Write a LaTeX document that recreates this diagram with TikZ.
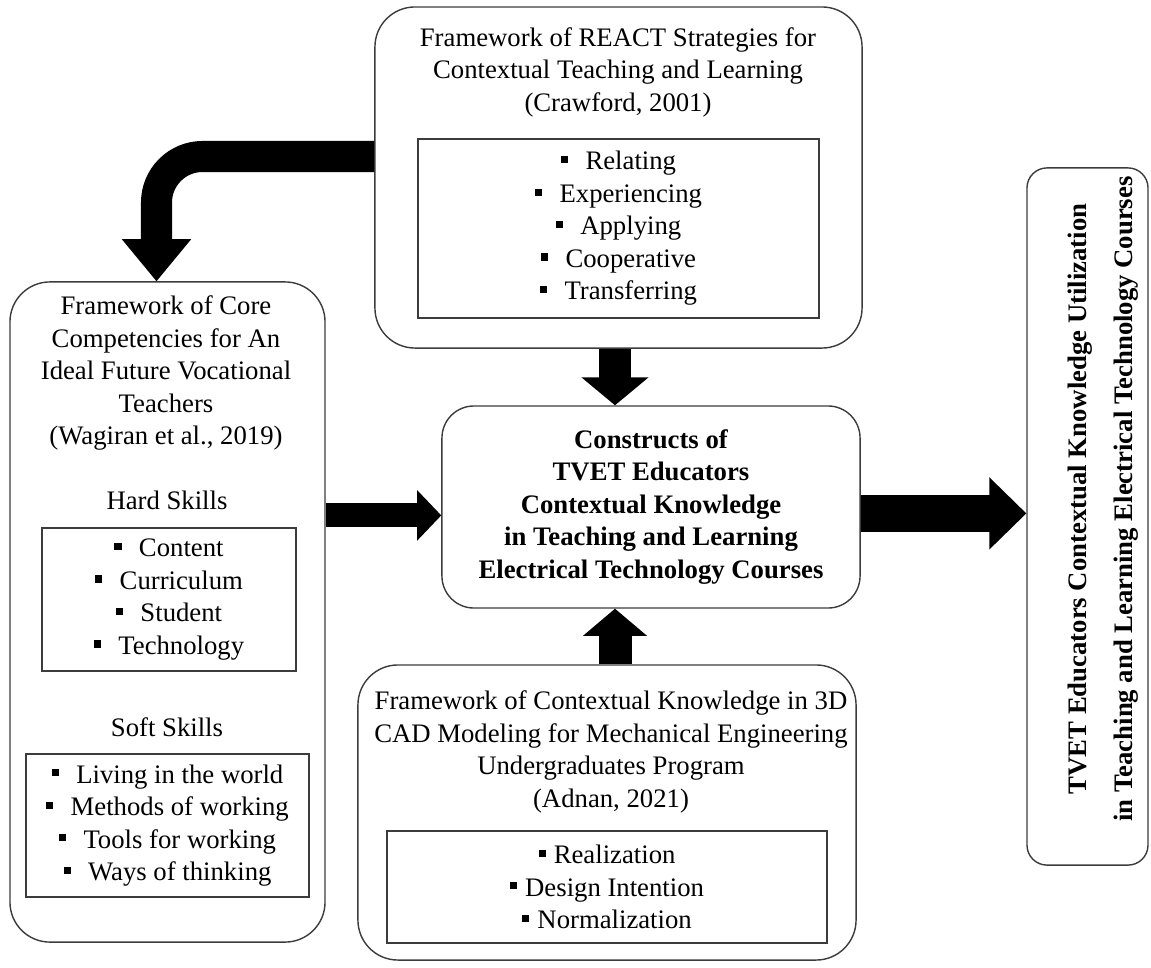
\documentclass[tikz,border=0pt]{standalone}
\usepackage{fontspec}
\setmainfont{Liberation Serif}
\usetikzlibrary{arrows.meta, positioning, calc}

\definecolor{boxline}{RGB}{60, 60, 60}
\newcommand{\boxfont}{\fontsize{19}{23.1}\selectfont}
\newcommand{\sqbul}{\rule[0.25em]{0.27em}{0.27em}}
\newcommand{\itm}[1]{\sqbul\hspace{0.65em}#1}
\newcommand{\itmtight}[1]{\sqbul\hspace{0.3em}#1}

\tikzset{
  framebox/.style={draw=boxline, line width=1pt, rounded corners=1cm},
  listbox/.style={draw=boxline, line width=1pt},
  txt/.style={font=\boxfont, align=center, inner sep=0pt},
  blockarrow/.style n args={3}{line width=#1, -{Triangle[length=#3 0 0, width=#2 0 0, line width=1.2pt 0 0]}}
}

\begin{document}
\begin{tikzpicture}[x=0.025cm, y=-0.025cm]
  \useasboundingbox (0,0) rectangle (1151,967);

  % REACT strategies (top)
  \node[framebox, minimum width=12.175cm, minimum height=8.525cm] (react) at (618.5,177.5) {};
  \node[txt] (reacttitle) at (618,72) {Framework of REACT Strategies for\\Contextual Teaching and Learning\\(Crawford, 2001)};
  \node[listbox, txt, minimum width=10.025cm, minimum height=4.475cm] (reactlist) at (618.5,228.5) {
    \itm{Relating}\\\itm{Experiencing}\\\itm{Applying}\\\itm{Cooperative}\\\itm{Transferring}
  };

  % Core competencies (left)
  \node[framebox, minimum width=7.875cm, minimum height=16.5cm] (core) at (167.5,612) {};
  \node[txt] (coretitle) at (166,373) {Framework of Core\\Competencies for An\\Ideal Future Vocational\\Teachers\\(Wagiran et al., 2019)};
  \node[txt] (hardlabel) at (167,500) {Hard Skills};
  \node[listbox, txt, minimum width=6.35cm, minimum height=3.575cm] (hardlist) at (169,599.5) {
    \itm{Content}\\\itm{Curriculum}\\\itm{Student}\\\itm{Technology}
  };
  \node[txt] (softlabel) at (167,727) {Soft Skills};
  \node[listbox, txt, minimum width=7.075cm, minimum height=3.575cm] (softlist) at (167.5,825.5) {
    \itm{Living in the world}\\\itm{Methods of working}\\\itm{Tools for working}\\\itm{Ways of thinking}
  };

  % Constructs (centre)
  \node[framebox, rounded corners=0.8cm, txt, font=\boxfont\bfseries, minimum width=10.45cm, minimum height=5.05cm] (constructs) at (651,507) {
    Constructs of\\TVET Educators\\Contextual Knowledge\\in Teaching and Learning\\Electrical Technology Courses
  };

  % 3D CAD knowledge (bottom)
  \node[framebox, minimum width=12.45cm, minimum height=7.375cm] (adnan) at (607,812.5) {};
  \node[txt] (adnantitle) at (611,752) {Framework of Contextual Knowledge in 3D\\CAD Modeling for Mechanical Engineering\\Undergraduates Program\\(Adnan, 2021)};
  \node[listbox, txt, minimum width=11cm, minimum height=2.8cm] (adnanlist) at (607,887) {
    \itmtight{Realization}\\\itmtight{Design Intention}\\\itmtight{Normalization}
  };

  % Utilization (right)
  \node[framebox, rounded corners=0.5cm, minimum width=3.025cm, minimum height=17.425cm] (outcome) at (1087.5,516.5) {};
  \node[txt, rotate=90, font=\fontsize{19}{32.6}\selectfont\bfseries] (outcometext) at (1103.5,499) {TVET Educators Contextual Knowledge Utilization\\in Teaching and Learning Electrical Technology Courses};

  % Arrows
  \coordinate (spine) at (615,0);
  \coordinate (leftin) at ([yshift=-0.21cm]constructs.west);
  \coordinate (rightout) at ([yshift=-0.16cm]constructs.east);
  \draw[blockarrow={0.775cm}{1.725cm}{1.05cm}, rounded corners=1.15cm] ([yshift=0.525cm]react.west) -| ([xshift=-0.275cm]core.north);
  \draw[blockarrow={0.8cm}{1.675cm}{0.7cm}] (react.south -| spine) -- (constructs.north -| spine);
  \draw[blockarrow={0.825cm}{1.6cm}{0.68cm}] (adnan.north -| spine) -- (constructs.south -| spine);
  \draw[blockarrow={0.6cm}{1.25cm}{0.6cm}] (core.east |- leftin) -- (leftin);
  \draw[blockarrow={0.925cm}{1.8cm}{0.925cm}] (rightout) -- (outcome.west |- rightout);
\end{tikzpicture}
\end{document}
